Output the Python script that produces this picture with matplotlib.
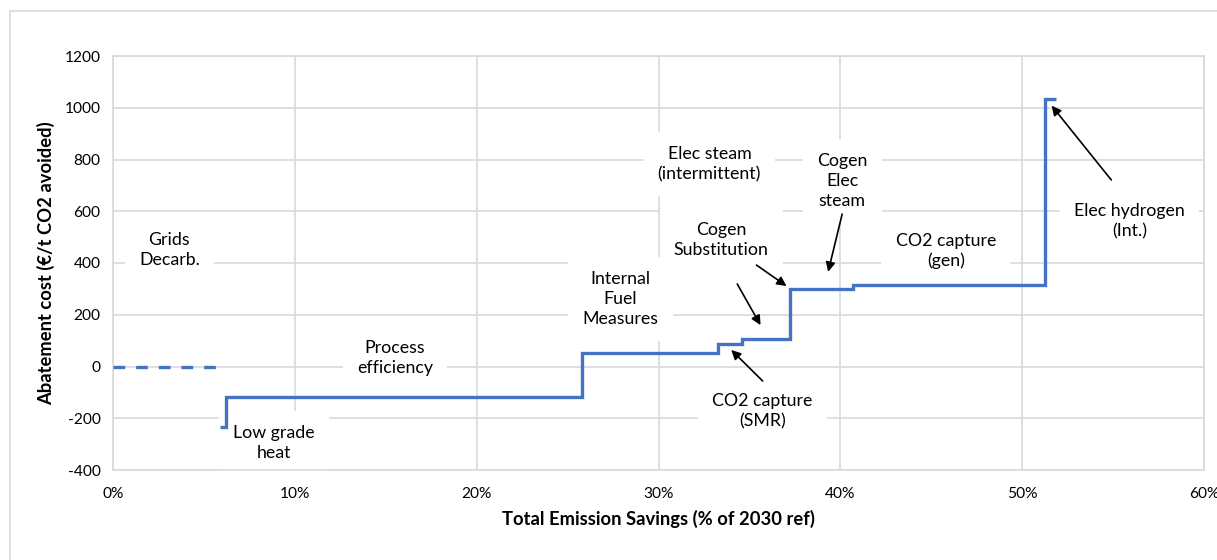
import matplotlib
matplotlib.use("Agg")
import matplotlib.pyplot as plt
from matplotlib.patches import Rectangle
from matplotlib.ticker import FuncFormatter

plt.rcParams['font.family'] = ['Lato', 'DejaVu Sans']
plt.rcParams['axes.unicode_minus'] = False

# Marginal abatement cost curve: cumulative savings (% of 2030 ref) vs cost (€/t CO2)
grid_edges = [0.0, 5.9]
grid_cost = [0]

step_edges = [5.9, 6.2, 25.8, 33.25, 34.6, 37.25, 40.7, 51.25, 51.85]
step_costs = [-232, -117, 53, 87, 105, 300, 314, 1035]

labels = ["Grids\nDecarb.", "Low grade\nheat", "Process\nefficiency",
          "Internal\nFuel\nMeasures", "Elec steam\n(intermittent)",
          "Cogen\nSubstitution", "Cogen\nElec\nsteam", "CO2 capture\n(gen)",
          "Elec hydrogen\n(Int.)", "CO2 capture\n(SMR)"]
label_x = [3.1, 8.85, 15.5, 27.9, 32.8, 33.45, 40.1, 45.8, 55.9, 35.7]
label_y = [450, -296, 33, 261, 782, 489, 716, 446, 561, -172]

# arrows: (tail x, tail y, head x, head y)
arrow_tail_x = [35.39, 34.33, 40.1, 35.73, 54.9]
arrow_tail_y = [392, 319, 589, -56, 721]
arrow_head_x = [37.04, 35.61, 39.33, 34.0, 51.62]
arrow_head_y = [311, 160, 366, 64, 1008]

line_color = "#4472C4"
grid_color = "#D9D9D9"

fig = plt.figure(figsize=(12.17, 5.6), dpi=100)
fig.patches.append(Rectangle((10 / 1217, -0.1), 1.2, 1 - 11 / 560 + 0.1,
                             transform=fig.transFigure, facecolor="none",
                             edgecolor=grid_color, linewidth=1.2, zorder=0))

ax = fig.add_axes([113 / 1217, 1 - 470 / 560, (1204 - 113) / 1217, (470 - 56) / 560])

ax.stairs(grid_cost, grid_edges, baseline=None, color=line_color,
          linewidth=2.4, linestyle=(0, (3.5, 3.3)), zorder=3)
ax.stairs(step_costs, step_edges, baseline=None, color=line_color,
          linewidth=2.4, zorder=3)

ax.set_xlim(0, 60)
ax.set_ylim(-400, 1200)
ax.set_xticks(range(0, 61, 10))
ax.set_yticks(range(-400, 1201, 200))
ax.xaxis.set_major_formatter(FuncFormatter(lambda v, p: f"{int(v)}%"))
ax.grid(True, color=grid_color, linewidth=1.2, zorder=0)
for s in ax.spines.values():
    s.set_color(grid_color)
    s.set_linewidth(1.2)
ax.tick_params(length=0, labelsize=11.2, colors="#000000", pad=9)
ax.tick_params(axis="x", pad=12)
ax.set_axisbelow(True)

ax.set_xlabel("Total Emission Savings (% of 2030 ref)", fontsize=13.2,
              fontweight="bold", labelpad=7)
ax.set_ylabel("Abatement cost (€/t CO2 avoided)", fontsize=13.2,
              fontweight="bold", labelpad=7)

for txt, x, y in zip(labels, label_x, label_y):
    ax.text(x, y, txt, ha="center", va="center", fontsize=12.8,
            linespacing=1.3, zorder=2,
            bbox=dict(boxstyle="square,pad=0.8", facecolor="white",
                      edgecolor="none"))

for tx, ty, hx, hy in zip(arrow_tail_x, arrow_tail_y, arrow_head_x, arrow_head_y):
    ax.annotate("", xy=(hx, hy), xytext=(tx, ty), zorder=4,
                arrowprops=dict(arrowstyle="-|>", color="black", lw=1.2,
                                mutation_scale=14, shrinkA=0, shrinkB=0))

fig.savefig("out.png", dpi=100, facecolor="white")
